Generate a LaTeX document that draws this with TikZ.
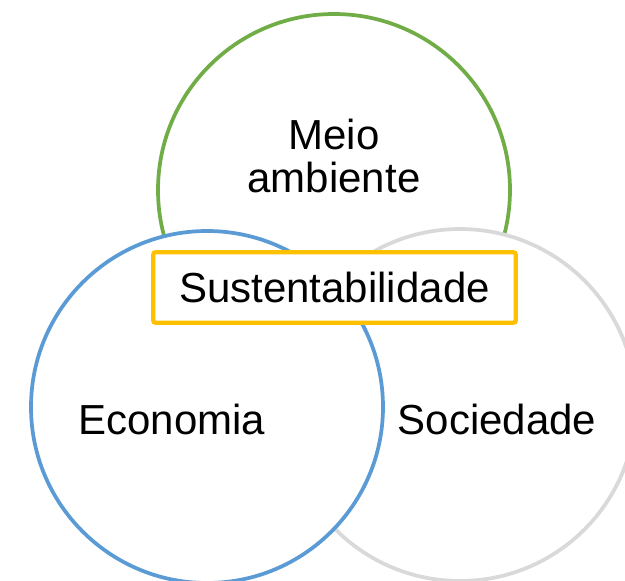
\documentclass[tikz,border=0pt]{standalone}
\usepackage{fontspec}
\setmainfont{Liberation Sans}
\usetikzlibrary{positioning}

\definecolor{envgreen}{HTML}{70AD47}
\definecolor{ecoblue}{HTML}{5B9BD5}
\definecolor{socgray}{HTML}{D9D9D9}
\definecolor{coreorange}{HTML}{FFC000}

\begin{document}
\begin{tikzpicture}[
    x=0.75pt, y=-0.75pt,
    every node/.style={font=\fontsize{31.5}{32}\selectfont, align=center},
    area/.style={draw, circle, fill=white, line width=2.8pt, minimum size=264pt, inner sep=0pt},
    core/.style={draw=coreorange, fill=white, line width=3.2pt, rounded corners=2pt,
        minimum width=272pt, minimum height=53pt}
]
\useasboundingbox (0,0) rectangle (625,581);
\clip (0,0) rectangle (625,581);

% the three areas
\node[area, draw=envgreen] (env) at (334,190) {};
\node[area, draw=socgray] (soc) at (460,405) {};
\node[area, draw=ecoblue] (eco) at (207,407) {};

% labels
\node (envtext) at (334,156) {Meio\\ambiente};
\node (ecotext) at (172,419) {Economia};
\node (soctext) at (497,419) {Sociedade};

% centre
\node[core] (sust) at (334.5,287.5) {Sustentabilidade};
\end{tikzpicture}
\end{document}
